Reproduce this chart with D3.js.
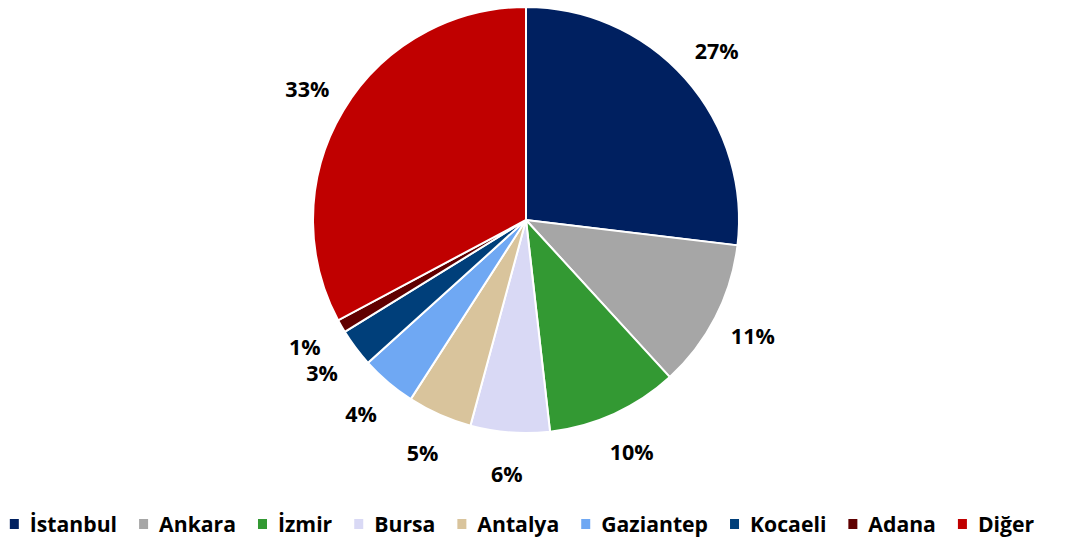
<!DOCTYPE html>
<meta charset="utf-8">
<style>
    body {
        margin: 0;
        background: #fff;
    }

    .slice {
        stroke: #fff;
        stroke-width: 2;
    }

    .label {
        font: 700 21.5px "Open Sans", sans-serif;
        fill: #000;
    }

    .legend text {
        font: 700 21.2px "Open Sans", sans-serif;
        fill: #000;
    }
</style>

<body>
    <script src="https://cdnjs.cloudflare.com/ajax/libs/d3/7.8.5/d3.min.js"></script>
    <script>
        // Data
        var cities = ["İstanbul", "Ankara", "İzmir", "Bursa", "Antalya", "Gaziantep", "Kocaeli", "Adana", "Diğer"];
        var shares = [26.9, 11.3, 10.0, 6.0, 4.9, 4.2, 2.9, 1.0, 32.8];
        var colors = ["#002060", "#a6a6a6", "#339933", "#d9d9f5", "#d9c49c", "#6fa8f3", "#003f7a", "#600000", "#c00000"];

        var width = 1075,
            height = 539;
        var cx = 526,
            cy = 220,
            radius = 213,
            labelRadius = 255;

        var svg = d3.select("body").append("svg")
            .attr("width", width)
            .attr("height", height);

        var data = cities.map(function (c, i) {
            return { name: c, value: shares[i], color: colors[i] };
        });

        var pie = d3.pie()
            .sort(null)
            .value(d => d.value);

        var arc = d3.arc()
            .innerRadius(0)
            .outerRadius(radius);

        var labelArc = d3.arc()
            .innerRadius(labelRadius)
            .outerRadius(labelRadius);

        var arcs = pie(data);

        var g = svg.append("g")
            .attr("transform", "translate(" + cx + "," + cy + ")");

        g.selectAll("path")
            .data(arcs)
            .enter().append("path")
            .attr("class", "slice")
            .attr("fill", d => d.data.color)
            .attr("d", arc);

        g.selectAll("text")
            .data(arcs)
            .enter().append("text")
            .attr("class", "label")
            .attr("transform", d => "translate(" + labelArc.centroid(d) + ")")
            .attr("text-anchor", "middle")
            .attr("dy", "0.36em")
            .text(d => Math.round(d.data.value) + "%");

        // Legend, laid out from measured text widths and centred
        var legend = svg.append("g").attr("class", "legend");
        var items = legend.selectAll("g")
            .data(data)
            .enter().append("g");

        items.append("rect")
            .attr("width", 9)
            .attr("height", 10)
            .attr("y", -13)
            .attr("fill", d => d.color);

        items.append("text")
            .attr("x", 20)
            .text(d => d.name);

        var gap = 22;
        var x = 0;
        items.each(function () {
            var w = d3.select(this).select("text").node().getComputedTextLength();
            d3.select(this).attr("transform", "translate(" + x + ",0)");
            x += 20 + w + gap;
        });
        var total = x - gap;
        legend.attr("transform", "translate(" + (522 - total / 2) + ",532)");
    </script>
</body>
